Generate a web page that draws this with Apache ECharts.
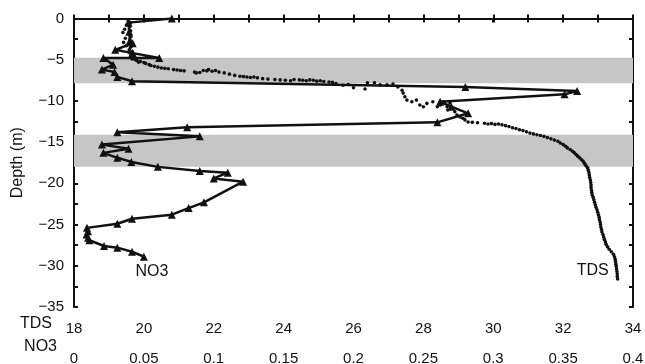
<!DOCTYPE html>
<html><head><meta charset="utf-8">
<script src="https://cdn.jsdelivr.net/npm/echarts@6/dist/echarts.min.js"></script>
<style>html,body{margin:0;padding:0;background:#fff}#c{width:645px;height:364px}</style>
</head><body><div id="c"></div>
<script>
// NO3 profile: [NO3, depth]
const no3Points = [
 [0.070,0],[0.039,-0.5],[0.0395,-1.6],[0.040,-2.7],[0.042,-3.0],[0.0295,-3.8],[0.042,-4.2],
 [0.061,-4.8],[0.021,-4.8],[0.028,-5.6],[0.020,-6.2],[0.029,-6.5],[0.031,-7.1],[0.0415,-7.6],
 [0.280,-8.3],[0.360,-8.8],[0.351,-9.2],[0.262,-10.1],[0.270,-10.7],[0.282,-11.5],[0.260,-12.6],
 [0.081,-13.2],[0.031,-13.8],[0.090,-14.3],[0.020,-15.3],[0.039,-15.8],[0.021,-16.3],[0.031,-16.9],
 [0.041,-17.4],[0.060,-18.0],[0.090,-18.5],[0.110,-18.7],[0.100,-19.4],[0.121,-19.8],
 [0.093,-22.3],[0.082,-23.0],[0.070,-23.8],[0.0415,-24.3],[0.031,-24.9],[0.0093,-25.4],
 [0.010,-25.8],[0.009,-26.2],[0.010,-26.6],[0.011,-26.9],[0.0215,-27.6],[0.031,-27.8],
 [0.0415,-28.3],[0.050,-28.9]
];
// TDS profile: [TDS, depth]
const tdsPoints = [
 [19.55,-0.3],[19.62,-0.5],[19.5,-0.8],[19.6,-1.0],[19.45,-1.3],[19.62,-1.5],[19.4,-1.7],[19.58,-1.9],
 [19.63,-2.2],[19.47,-2.4],[19.6,-2.6],[19.42,-2.9],[19.65,-3.1],[19.5,-3.3],[19.62,-3.5],[19.58,-3.8],
 [19.66,-4.0],[19.6,-4.2],[19.68,-4.4],[19.62,-4.6],[19.7,-4.8],[19.66,-4.9],
 [19.75,-5.0],[19.8,-5.1],[19.9,-5.2],[19.85,-5.3],[20.0,-5.35],[20.05,-5.45],[20.15,-5.6],[20.2,-5.7],
 [20.3,-5.8],[20.4,-5.9],[20.5,-6.0],[20.6,-6.05],[20.7,-6.1],[20.85,-6.2],[20.95,-6.25],[21.05,-6.3],
 [21.15,-6.35],[21.45,-6.5],[21.5,-6.6],[21.6,-6.55],[21.7,-6.3],[21.8,-6.35],[21.85,-6.2],[21.95,-6.4],
 [22.05,-6.3],[22.15,-6.5],[22.3,-6.6],[22.45,-6.75],[22.6,-6.9],[22.75,-7.0],[22.85,-7.05],[22.95,-7.1],
 [23.05,-7.15],[23.15,-7.1],[23.25,-7.2],[23.4,-7.3],[23.55,-7.35],[23.75,-7.4],[23.9,-7.45],[24.05,-7.5],
 [24.2,-7.55],[24.3,-7.4],[24.45,-7.45],[24.55,-7.5],[24.65,-7.55],[24.75,-7.45],[24.85,-7.5],[24.95,-7.6],
 [25.05,-7.55],[25.15,-7.65],[25.3,-7.7],[25.4,-7.75],[25.5,-7.9],[25.7,-8.1],[25.85,-8.0],
 [26.0,-8.4],[26.33,-8.55],[26.4,-7.8],[26.6,-7.8],[26.76,-8.05],[26.96,-8.05],[27.13,-7.95],[27.27,-8.3],
 [27.39,-8.7],[27.42,-9.05],[27.47,-9.5],[27.53,-9.9],[27.67,-10.1],[27.8,-9.9],[27.9,-10.5],[28.0,-10.7],
 [28.1,-10.3],[28.27,-10.1],[28.4,-10.7],[28.48,-10.5],[28.57,-10.1],[28.68,-10.7],[28.7,-11.1],[28.76,-10.25],
 [28.85,-10.9],[28.9,-11.3],[28.96,-11.7],[29.05,-11.95],[29.13,-12.1],[29.19,-12.3],[29.28,-12.55],
 [29.4,-12.6],[29.55,-12.65],[29.75,-12.7],[29.85,-12.8],[29.95,-12.75],[30.05,-12.85],[30.15,-12.8],
 [30.25,-12.9],[30.35,-13.0],[30.45,-13.1],[30.55,-13.25],[30.65,-13.35],[30.75,-13.5],[30.85,-13.6],
 [30.95,-13.75],[31.05,-13.9],[31.15,-14.0],[31.25,-14.1],[31.35,-14.2],[31.45,-14.3],[31.55,-14.45],
 [31.65,-14.6],[31.75,-14.75],[31.85,-14.9],[31.92,-15.1],[32.0,-15.3],[32.07,-15.5],[32.12,-15.7],
 [32.2,-15.9],[32.27,-16.1],[32.32,-16.3],[32.37,-16.5],[32.42,-16.7],[32.47,-16.9],[32.52,-17.1],
 [32.57,-17.3],[32.6,-17.5],[32.63,-17.7],[32.66,-17.9],[32.7,-18.1],[32.72,-18.4],[32.74,-18.7],
 [32.75,-19.0],[32.76,-19.3],[32.78,-19.6],[32.79,-19.9],[32.8,-20.2],[32.8,-20.5],[32.81,-20.8],
 [32.82,-21.1],[32.83,-21.4],[32.86,-21.7],[32.88,-22.0],[32.9,-22.3],[32.92,-22.6],[32.94,-22.9],
 [32.97,-23.2],[32.99,-23.5],[33.01,-23.8],[33.03,-24.1],[33.04,-24.4],[33.06,-24.7],[33.07,-25.0],
 [33.08,-25.3],[33.1,-25.6],[33.11,-25.9],[33.14,-26.2],[33.16,-26.5],[33.18,-26.8],[33.21,-27.1],
 [33.23,-27.4],[33.27,-27.7],[33.32,-28.0],[33.38,-28.3],[33.44,-28.6],[33.47,-28.9],[33.49,-29.2],
 [33.5,-29.5],[33.51,-29.8],[33.52,-30.1],[33.53,-30.4],[33.54,-30.7],[33.55,-31.0],[33.55,-31.3],[33.56,-31.6]
];
// shaded depth bands [top, bottom]
const bands = [[-4.75,-7.85],[-14.1,-18.0]];
const tdsRange = [18, 34];
const no3Range = [0, 0.4];
const depthRange = [-35, 0];
const axisTitles = ['TDS', 'NO3', 'Depth (m)'];

const FONT = 'Liberation Sans, Arial, Helvetica, sans-serif';
const INK = '#111111';
const chart = echarts.init(document.getElementById('c'), null, {renderer:'canvas'});

function lastLabel(arr, text, offset){
  return arr.map((p,i)=> i===arr.length-1 ? {value:p, label:{show:true, formatter:text, position:'inside', offset:offset, color:INK, fontSize:16, fontFamily:FONT, textBorderWidth:0}} : p);
}
const axLine = {show:true, lineStyle:{color:INK, width:2}};
const tick = (inside)=>({show:true, inside:inside, length:4, lineStyle:{color:INK, width:2}});

chart.setOption({
  animation:false,
  grid:{left:74, right:12, top:18.5, bottom:57, containLabel:false, outerBoundsMode:'none'},
  graphic:[
    {type:'text', silent:true, x:52, y:324,
     style:{text:axisTitles[0], textAlign:'right', textVerticalAlign:'middle', fill:INK, fontSize:16, fontFamily:FONT}},
    {type:'text', silent:true, x:57, y:347,
     style:{text:axisTitles[1], textAlign:'right', textVerticalAlign:'middle', fill:INK, fontSize:16, fontFamily:FONT}}
  ],
  xAxis:[
    {type:'value', position:'bottom', min:tdsRange[0], max:tdsRange[1], interval:1,
     axisLine:axLine, axisTick:tick(true), splitLine:{show:false},
     axisLabel:{margin:14, color:INK, fontSize:15, fontFamily:FONT, showMinLabel:true, showMaxLabel:true,
       formatter:v=> (Math.round(v)%2===0 ? String(v) : '')}},
    {type:'value', position:'bottom', offset:32, min:no3Range[0], max:no3Range[1], interval:0.025,
     axisLine:axLine, axisTick:tick(false), splitLine:{show:false},
     axisLabel:{margin:12, color:INK, fontSize:15, fontFamily:FONT, showMinLabel:true, showMaxLabel:true,
       formatter:v=>{const k=v/0.05; return Math.abs(k-Math.round(k))<1e-6 ? String(+v.toFixed(3)) : '';}}},
    {type:'value', position:'top', min:tdsRange[0], max:tdsRange[1], interval:1,
     axisLine:axLine, axisTick:tick(true), axisLabel:{show:false}, splitLine:{show:false}}
  ],
  yAxis:[
    {type:'value', position:'left', min:depthRange[0], max:depthRange[1], interval:2.5,
     axisLine:axLine, axisTick:tick(true), splitLine:{show:false},
     axisLabel:{margin:10, color:INK, fontSize:15, fontFamily:FONT, showMinLabel:true, showMaxLabel:true,
       formatter:v=> (Math.abs(v%5)<1e-9 ? (v<0 ? '\u2212'+Math.abs(v) : String(v)) : '')},
     name:axisTitles[2], nameLocation:'middle', nameGap:48,
     nameTextStyle:{color:INK, fontSize:16, fontFamily:FONT}},
    {type:'value', position:'right', min:depthRange[0], max:depthRange[1], interval:2.5,
     axisLine:axLine, axisTick:tick(true), axisLabel:{show:false}, splitLine:{show:false}}
  ],
  series:[
    {type:'line', xAxisIndex:0, yAxisIndex:0, data:[[tdsRange[0],depthRange[1]]], symbol:'none',
     lineStyle:{opacity:0}, silent:true, z:1,
     markArea:{silent:true, itemStyle:{color:'#c6c6c6'},
       data: bands.map(b=>[{yAxis:b[0]},{yAxis:b[1]}])}},
    {type:'scatter', xAxisIndex:0, yAxisIndex:0, symbol:'circle', symbolSize:3.6,
     itemStyle:{color:'#111', opacity:1}, z:3, data:lastLabel(tdsPoints,'TDS',[-25,-8])},
    {type:'line', xAxisIndex:1, yAxisIndex:0, symbol:'triangle', symbolSize:8, showSymbol:true,
     lineStyle:{color:INK, width:2.5}, itemStyle:{color:INK}, z:4,
     data:lastLabel(no3Points,'NO3',[8,15])}
  ]
});
</script></body></html>
